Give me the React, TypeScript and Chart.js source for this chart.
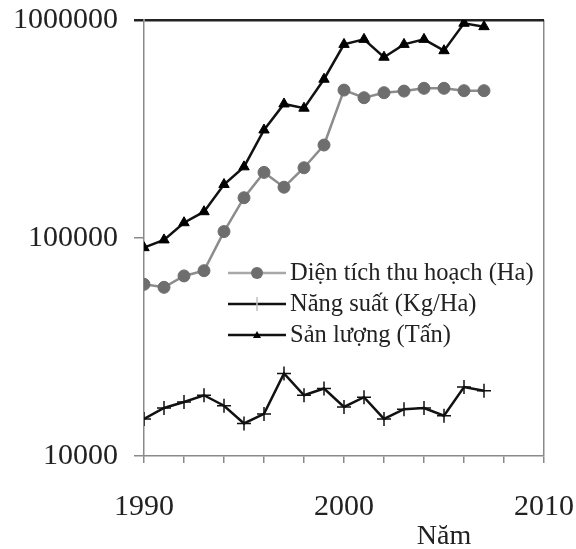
import React, { useEffect, useRef } from "react";
import { Chart, registerables } from "chart.js";

Chart.register(...registerables);

const years = [1990, 1991, 1992, 1993, 1994, 1995, 1996, 1997, 1998, 1999, 2000, 2001, 2002, 2003, 2004, 2005, 2006, 2007];
const dienTich = [61300, 59400, 67000, 70800, 107000, 153000, 200000, 171000, 210000, 267000, 477000, 440000, 464000, 472000, 486000, 486000, 474000, 474000];
const nangSuat = [14800, 16600, 17700, 19000, 17000, 14100, 15600, 23900, 19000, 20400, 16800, 18600, 14800, 16400, 16600, 15300, 20700, 19900];
const sanLuong = [90300, 98000, 117500, 132000, 176000, 212000, 313000, 412000, 394000, 535000, 773000, 815000, 675000, 773000, 815000, 723000, 966000, 932000];
const seriesNames = ["Diện tích thu hoạch (Ha)", "Năng suất (Kg/Ha)", "Sản lượng (Tấn)"];
const yTicks = [10000, 100000, 1000000];
const xMin = 1990;
const xMax = 2010;
const xTitle = "Năm";

const FONT = "'Liberation Serif', 'DejaVu Serif', serif";
const AXIS_GRAY = "#8a8a8a";

const insideLegend = {
  id: "insideLegend",
  afterDraw(chart: any) {
    const { ctx, chartArea } = chart;
    const x0 = chartArea.left + 84;
    const y0 = chartArea.top + 253;
    const gap = 31;
    ctx.save();
    chart.data.datasets.forEach((ds: any, i: number) => {
      const y = y0 + i * gap;
      ctx.strokeStyle = i === 0 ? "#a8a8a8" : ds.borderColor;
      ctx.lineWidth = ds.borderWidth;
      ctx.beginPath();
      ctx.moveTo(x0, y);
      ctx.lineTo(x0 + 58, y);
      ctx.stroke();
      ctx.fillStyle = ds.pointBackgroundColor;
      ctx.strokeStyle = ds.pointBorderColor;
      ctx.lineWidth = ds.pointBorderWidth || 1;
      const cx = x0 + 29;
      const r = ds.pointRadius;
      if (ds.pointStyle === "circle") {
        ctx.beginPath();
        ctx.arc(cx, y, r, 0, Math.PI * 2);
        ctx.fill();
      } else if (ds.pointStyle === "triangle") {
        ctx.beginPath();
        ctx.moveTo(cx, y - 4);
        ctx.lineTo(cx + 4, y + 3);
        ctx.lineTo(cx - 4, y + 3);
        ctx.closePath();
        ctx.fill();
      } else {
        ctx.strokeStyle = "#c0c0c0";
        ctx.beginPath();
        ctx.moveTo(cx, y - r);
        ctx.lineTo(cx, y + r);
        ctx.stroke();
      }
      ctx.fillStyle = "#222";
      ctx.font = `24.5px ${FONT}`;
      ctx.textBaseline = "middle";
      ctx.textAlign = "left";
      ctx.fillText(ds.label, x0 + 62, y + 1);
    });
    // x axis title
    const xs = chart.scales.x;
    ctx.fillStyle = "#222";
    ctx.font = `28px ${FONT}`;
    ctx.textAlign = "center";
    ctx.textBaseline = "alphabetic";
    ctx.fillText(xTitle, xs.getPixelForValue(2005), chartArea.bottom + 88);
    ctx.restore();
  },
};

export default function App() {
  const canvasRef = useRef<HTMLCanvasElement | null>(null);

  useEffect(() => {
    const canvas = canvasRef.current;
    if (!canvas) return;
    const mk = (vals: number[]) => years.map((y, i) => ({ x: y, y: vals[i] }));
    const chart = new Chart(canvas, {
      type: "line",
      data: {
        datasets: [
          {
            label: seriesNames[0],
            data: mk(dienTich),
            borderColor: "#8c8c8c",
            borderWidth: 2.5,
            pointStyle: "circle",
            pointRadius: 6,
            pointBackgroundColor: "#6e6e6e",
            pointBorderColor: "#6e6e6e",
            pointBorderWidth: 1,
            tension: 0,
          },
          {
            label: seriesNames[1],
            data: mk(nangSuat),
            borderColor: "#111",
            borderWidth: 2.5,
            pointStyle: "cross",
            pointRadius: 7,
            pointBackgroundColor: "#111",
            pointBorderColor: "#111",
            pointBorderWidth: 1.5,
            tension: 0,
          },
          {
            label: seriesNames[2],
            data: mk(sanLuong),
            borderColor: "#111",
            borderWidth: 2.5,
            pointStyle: "triangle",
            pointRadius: 6,
            pointBackgroundColor: "#000",
            pointBorderColor: "#000",
            pointBorderWidth: 1,
            tension: 0,
          },
        ],
      },
      options: {
        animation: false,
        responsive: false,
        maintainAspectRatio: false,
        layout: { padding: { top: 20, right: 32, left: 0, bottom: 0 } },
        plugins: { legend: { display: false }, tooltip: { enabled: false } },
        scales: {
          x: {
            type: "linear",
            min: xMin,
            max: xMax,
            afterFit: (s: any) => {
              s.height = 93;
              s.paddingLeft = 0;
              s.paddingRight = 0;
            },
            ticks: {
              stepSize: 2,
              autoSkip: false,
              maxRotation: 0,
              padding: 26,
              color: "#222",
              font: { family: FONT, size: 30 },
              callback: (v: any) => (Number(v) % 10 === 0 ? String(v) : ""),
            },
            grid: {
              color: (c: any) => (c.tick && c.tick.value === xMax ? AXIS_GRAY : "transparent"),
              tickColor: AXIS_GRAY,
              tickLength: 7,
              lineWidth: 1.5,
            },
            border: { color: AXIS_GRAY, width: 1.5 },
          },
          y: {
            type: "logarithmic",
            min: 10000,
            max: 1000000,
            afterBuildTicks: (s: any) => {
              s.ticks = yTicks.map((v) => ({ value: v }));
            },
            afterFit: (s: any) => {
              s.width = 144;
              s.paddingTop = 0;
              s.paddingBottom = 0;
            },
            ticks: {
              padding: 16,
              color: "#222",
              font: { family: FONT, size: 30 },
              callback: (v: any) => String(v),
            },
            grid: {
              color: (c: any) => (c.tick && c.tick.value === 1000000 ? "#222" : "transparent"),
              tickColor: (c: any) => (c.tick && c.tick.value === 1000000 ? "#222" : AXIS_GRAY),
              lineWidth: (c: any) => (c.tick && c.tick.value === 1000000 ? 2.5 : 1.5),
              tickLength: 10,
            },
            border: { color: AXIS_GRAY, width: 1.5 },
          },
        },
      },
      plugins: [insideLegend],
    } as any);
    return () => chart.destroy();
  }, []);

  return (
    <div style={{ position: "absolute", left: 0, top: 0, width: 576, height: 549, background: "#fff" }}>
      <canvas ref={canvasRef} width={576} height={549} style={{ width: 576, height: 549 }} />
    </div>
  );
}
